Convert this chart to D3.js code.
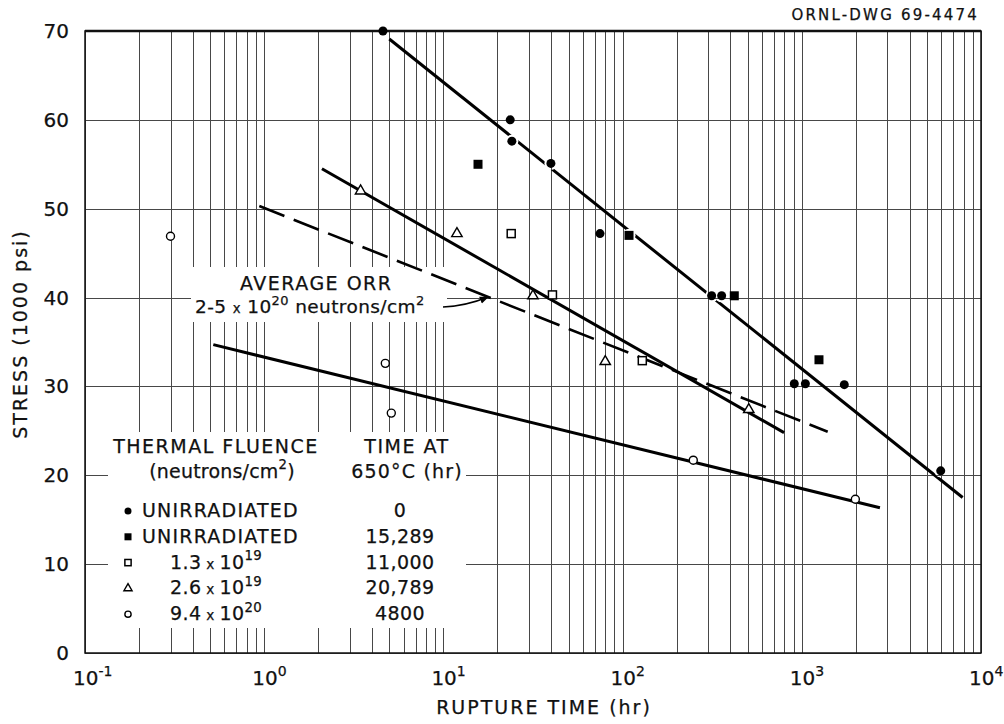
<!DOCTYPE html>
<meta charset="utf-8">
<html>
<head>
    <style>
        body {
            margin: 0;
            background-color: #fff;
        }

        text {
            font-family: "DejaVu Sans", sans-serif;
            fill: #111;
            stroke: #111;
            stroke-width: 0.25px;
        }

        .grid line {
            stroke: #484848;
            stroke-width: 1px;
            shape-rendering: crispEdges;
        }

        .fit {
            fill: none;
            stroke: #000;
            stroke-width: 3px;
        }
    </style>
    <title>Stress vs rupture time</title>
    <script src="https://cdnjs.cloudflare.com/ajax/libs/d3/7.8.5/d3.min.js"></script>
</head>
<body>
<div id="chart"></div>
<script>
    // points: rupture time (hr) and stress (1000 psi)
    const unirrTime = [4.6, 23.6, 24.1, 39.8, 74.8, 314, 357, 908, 1047, 1726, 5960];
    const unirrStress = [70, 60, 57.6, 55.1, 47.2, 40.2, 40.2, 30.3, 30.3, 30.2, 20.5];
    const agedTime = [15.6, 108.6, 420, 1247];
    const agedStress = [55.0, 47.0, 40.2, 33.0];
    const f13Time = [23.9, 40.6, 128.8];
    const f13Stress = [47.2, 40.3, 32.9];
    const f26Time = [3.45, 11.9, 31.6, 80, 506];
    const f26Stress = [52.0, 47.2, 40.2, 32.8, 27.4];
    const f94Time = [0.30, 4.74, 5.12, 248, 1990];
    const f94Stress = [46.9, 32.6, 27.0, 21.7, 17.3];

    // drawn curves (end points)
    const fitUnirrTime = [4.99, 7900], fitUnirrStress = [69.1, 17.5];
    const fitF26Time = [2.10, 796], fitF26Stress = [54.5, 24.8];
    const fitOrrTime = [0.939, 1395], fitOrrStress = [50.3, 24.9];
    const fitF94Time = [0.52, 2729], fitF94Stress = [34.7, 16.35];

    const yTicks = [0, 10, 20, 30, 40, 50, 60, 70];
    const xDecades = [-1, 0, 1, 2, 3, 4];
    const legendFluence = ["UNIRRADIATED", "UNIRRADIATED", "1.3|19", "2.6|19", "9.4|20"];
    const legendHours = ["0", "15,289", "11,000", "20,789", "4800"];
    const legendShapes = ["dot", "block", "square", "triangle", "circle"];

    const W = 1004, H = 724;
    const plot = {left: 85, right: 981, top: 31, bottom: 653};

    const x = d3.scaleLog().domain([0.1, 1e4]).range([plot.left, plot.right]);
    const y = d3.scaleLinear().domain([0, 70]).range([plot.bottom, plot.top]);

    const svg = d3.select("#chart").append("svg")
        .attr("width", W)
        .attr("height", H);

    const defs = svg.append("defs");
    defs.append("marker")
        .attr("id", "arrow")
        .attr("viewBox", "0 0 10 10")
        .attr("refX", 9).attr("refY", 5)
        .attr("markerWidth", 9).attr("markerHeight", 9)
        .attr("markerUnits", "userSpaceOnUse")
        .attr("orient", "auto")
        .append("path")
        .attr("d", "M0,1 L10,5 L0,9 Z")
        .attr("fill", "#000");

    // the drafted unirradiated line is broken where it runs through solid points
    const gap = defs.append("mask").attr("id", "gaps").attr("maskUnits", "userSpaceOnUse")
        .attr("x", 0).attr("y", 0).attr("width", W).attr("height", H);
    gap.append("rect").attr("width", W).attr("height", H).attr("fill", "#fff");
    gap.selectAll("circle")
        .data(d3.zip(unirrTime.concat(agedTime), unirrStress.concat(agedStress)))
        .enter().append("circle")
        .attr("cx", d => x(d[0]))
        .attr("cy", d => y(d[1]))
        .attr("r", 6.5)
        .attr("fill", "#000");

    // grid
    const grid = svg.append("g").attr("class", "grid");
    grid.selectAll(".vx")
        .data(x.ticks())
        .enter().append("line")
        .attr("x1", d => Math.round(x(d)) + 0.5)
        .attr("x2", d => Math.round(x(d)) + 0.5)
        .attr("y1", plot.top)
        .attr("y2", plot.bottom);
    grid.selectAll(".hy")
        .data(yTicks)
        .enter().append("line")
        .attr("x1", plot.left)
        .attr("x2", plot.right)
        .attr("y1", d => Math.round(y(d)) + 0.5)
        .attr("y2", d => Math.round(y(d)) + 0.5);

    // blank areas behind the lettering
    svg.append("rect").attr("x", 108).attr("y", 432).attr("width", 358).attr("height", 196).attr("fill", "#fff");
    svg.append("rect").attr("x", 191).attr("y", 267).attr("width", 256).attr("height", 55).attr("fill", "#fff");

    // frame
    svg.append("rect")
        .attr("x", plot.left).attr("y", plot.top)
        .attr("width", plot.right - plot.left).attr("height", plot.bottom - plot.top)
        .attr("fill", "none").attr("stroke", "#111").attr("stroke-width", 1.5);
    svg.append("line")
        .attr("x1", plot.left).attr("x2", plot.right)
        .attr("y1", plot.top).attr("y2", plot.top)
        .attr("stroke", "#111").attr("stroke-width", 2.5);

    // curves
    const line = d3.line().x(d => x(d[0])).y(d => y(d[1]));
    svg.append("path").attr("class", "fit")
        .attr("d", line(d3.zip(fitUnirrTime, fitUnirrStress)))
        .attr("mask", "url(#gaps)");
    svg.append("path").attr("class", "fit")
        .attr("d", line(d3.zip(fitF26Time, fitF26Stress)));
    svg.append("path").attr("class", "fit")
        .attr("d", line(d3.zip(fitF94Time, fitF94Stress)));
    svg.append("path").attr("class", "fit")
        .attr("d", line(d3.zip(fitOrrTime, fitOrrStress)))
        .style("stroke-width", "2.6px")
        .style("stroke-dasharray", "27,10");

    function drawMark(g, shape, cx, cy, s) {
        if (shape === "dot") {
            g.append("circle").attr("cx", cx).attr("cy", cy).attr("r", 4.5 * s).attr("fill", "#000");
        } else if (shape === "block") {
            g.append("rect").attr("x", cx - 4.5 * s).attr("y", cy - 4.5 * s)
                .attr("width", 9 * s).attr("height", 9 * s).attr("fill", "#000");
        } else if (shape === "square") {
            g.append("rect").attr("x", cx - 4 * s).attr("y", cy - 4 * s)
                .attr("width", 8 * s).attr("height", 8 * s)
                .attr("fill", "#fff").attr("stroke", "#000").attr("stroke-width", 1.5);
        } else if (shape === "triangle") {
            const r = 6 * s;
            g.append("path")
                .attr("d", `M${cx},${cy - r} L${cx + r * 0.87},${cy + r * 0.5} L${cx - r * 0.87},${cy + r * 0.5} Z`)
                .attr("fill", "#fff").attr("stroke", "#000").attr("stroke-width", 1.4);
        } else {
            g.append("circle").attr("cx", cx).attr("cy", cy).attr("r", 4 * s)
                .attr("fill", "#fff").attr("stroke", "#000").attr("stroke-width", 1.4);
        }
    }

    const marks = svg.append("g");
    [[unirrTime, unirrStress, "dot"], [agedTime, agedStress, "block"], [f13Time, f13Stress, "square"],
        [f26Time, f26Stress, "triangle"], [f94Time, f94Stress, "circle"]].forEach(function (set) {
        d3.zip(set[0], set[1]).forEach(d => drawMark(marks, set[2], x(d[0]), y(d[1]), 1));
    });

    // text with superscripts
    function addText(x0, y0, parts, size, ls, anchor) {
        const t = svg.append("text")
            .attr("x", x0).attr("y", y0)
            .attr("font-size", size)
            .attr("text-anchor", anchor || "start")
            .style("letter-spacing", ls + "px");
        let shift = 0;
        parts.forEach(function (p) {
            const str = typeof p === "string" ? p : p[0];
            const kind = typeof p === "string" ? "n" : p[1];
            const target = kind === "sup" ? -size * 0.45 : 0;
            const fs = kind === "sup" ? size * 0.7 : (kind === "small" ? size * 0.72 : size);
            t.append("tspan").attr("dy", target - shift).attr("font-size", fs).text(str);
            shift = target;
        });
        return t;
    }

    // y tick labels
    yTicks.forEach(v => addText(69, y(v) + 7, [String(v)], 20, 0, "end"));
    // x tick labels
    xDecades.forEach(k => addText(x(Math.pow(10, k)) - 12, 685, ["10", [k < 0 ? "-" + (-k) : String(k), "sup"]], 20, 0, "start"));

    addText(544, 714, ["RUPTURE TIME (hr)"], 19, 2, "middle");
    addText(0, 0, ["STRESS (1000 psi)"], 19, 2, "middle")
        .attr("transform", "translate(27,334) rotate(-90)");
    addText(979, 20, ["ORNL-DWG 69-4474"], 15, 2.2, "end");

    // annotation for the dashed curve
    addText(240, 290, ["AVERAGE ORR"], 19, 1.5, "start");
    addText(195, 313, ["2-5 ", ["x", "small"], " 10", ["20", "sup"], " neutrons/cm", ["2", "sup"]], 18.5, 0.4, "start");
    svg.append("path")
        .attr("d", "M443,307 Q466,306 488,297")
        .attr("fill", "none").attr("stroke", "#000").attr("stroke-width", 1.6)
        .attr("marker-end", "url(#arrow)");

    // legend
    addText(216, 453, ["THERMAL FLUENCE"], 19, 1.5, "middle");
    addText(222, 478, ["(neutrons/cm", ["2", "sup"], ")"], 19, 0.2, "middle");
    addText(407, 453, ["TIME AT"], 19, 1.5, "middle");
    addText(407, 478, ["650°C (hr)"], 19, 1.2, "middle");

    const legendG = svg.append("g");
    legendFluence.forEach(function (label, i) {
        const base = 517 + i * 25.8;
        drawMark(legendG, legendShapes[i], 128, base - 6, 0.78);
        if (label.indexOf("|") < 0) {
            addText(142, base, [label], 19, 1.2, "start");
        } else {
            const pr = label.split("|");
            addText(170, base, [pr[0], [" x ", "small"], "10", [pr[1], "sup"]], 19, 0.4, "start");
        }
        addText(400, base, [legendHours[i]], 19, 0.4, "middle");
    });
</script>
</body>
</html>
